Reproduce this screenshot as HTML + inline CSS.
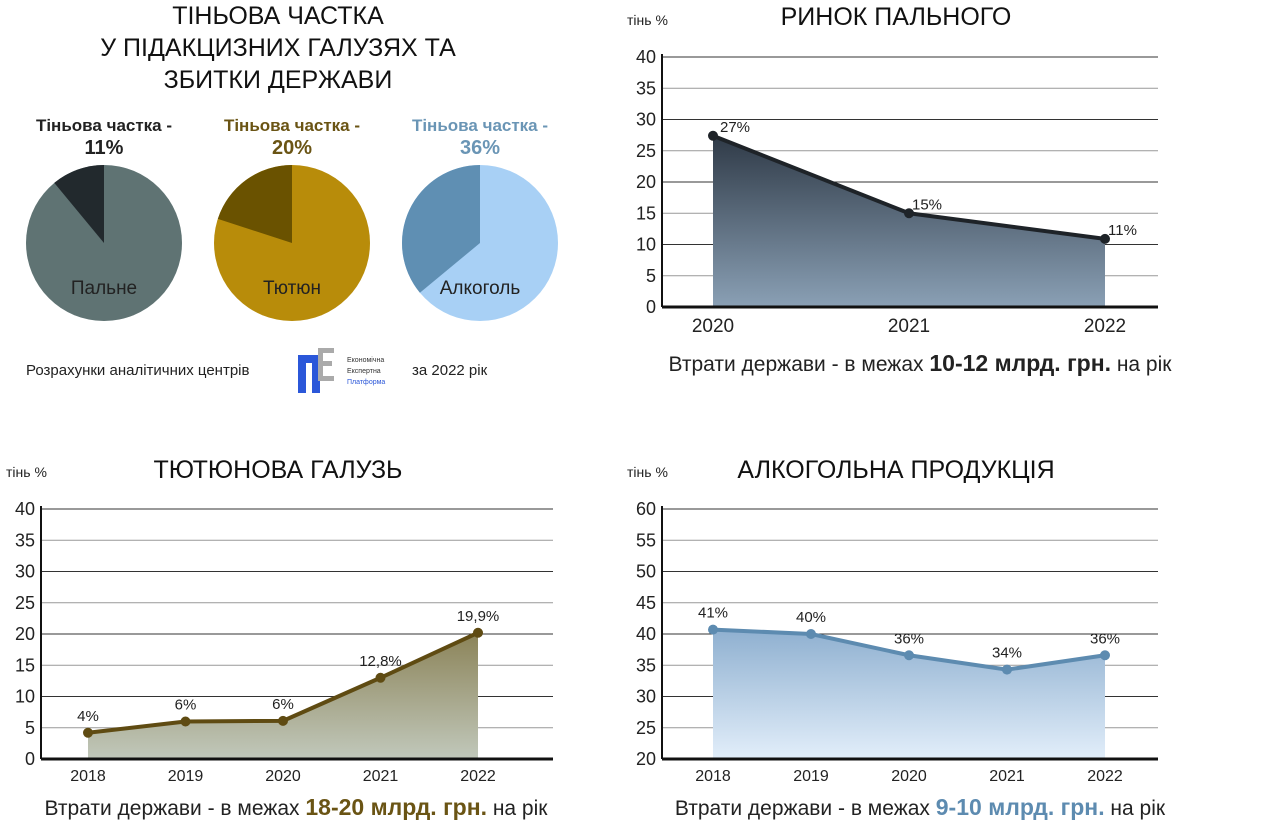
<!DOCTYPE html>
<html><head><meta charset="utf-8">
<style>
body{margin:0;background:#fff;font-family:"Liberation Sans",sans-serif;}
svg text{font-family:"Liberation Sans",sans-serif;}
</style></head>
<body>
<svg id="root" width="1280" height="827" viewBox="0 0 1280 827" xmlns="http://www.w3.org/2000/svg">
<defs>
<linearGradient id="gFuel" x1="0" y1="0" x2="0" y2="1"><stop offset="0" stop-color="#2f3a47"/><stop offset="1" stop-color="#8aa0b5"/></linearGradient>
<linearGradient id="gTob" x1="0" y1="0" x2="0" y2="1"><stop offset="0" stop-color="#8b8358"/><stop offset="1" stop-color="#c1c8bb"/></linearGradient>
<linearGradient id="gAlc" x1="0" y1="0" x2="0" y2="1"><stop offset="0" stop-color="#8fb0d0"/><stop offset="1" stop-color="#e2eefa"/></linearGradient>
</defs>
<g font-size="25" text-anchor="middle" fill="#111">
<text x="278" y="24">ТІНЬОВА ЧАСТКА</text>
<text x="278" y="56">У ПІДАКЦИЗНИХ ГАЛУЗЯХ ТА</text>
<text x="278" y="88">ЗБИТКИ ДЕРЖАВИ</text>
</g>
<g id="pies"></g>
<g>
<text x="26" y="375" font-size="15" fill="#222">Розрахунки аналітичних центрів</text>
<g>
<path d="M298 355 h22 v38 h-8 v-30 h-6 v30 h-8z" fill="#2b57d9"/>
<path d="M318 348 h16 v5 h-11 v8 h9 v5 h-9 v10 h11 v5 h-16z" fill="#aaa"/>
<text x="347" y="362" font-size="7" fill="#333">Економічна</text>
<text x="347" y="373" font-size="7" fill="#333">Експертна</text>
<text x="347" y="384" font-size="7" fill="#2b57d9">Платформа</text>
</g>
<text x="412" y="375" font-size="15" fill="#222">за 2022 рік</text>
</g>
<g id="charts"></g>
</svg>
<script>
const NS='http://www.w3.org/2000/svg';
const root=document.getElementById('root');
function mk(tag,attrs,parent,text){const e=document.createElementNS(NS,tag);for(const k in attrs)e.setAttribute(k,attrs[k]);if(text!==undefined)e.textContent=text;(parent||root).appendChild(e);return e;}

const pieLabels=['Пальне','Тютюн','Алкоголь'];
const pieShares=[11,20,36];
const pieHeads=['11%','20%','36%'];
const pieCx=[104,292,480];
const pieMain=['#5f7373','#b88c0a','#a8d0f5'];
const pieShadow=['#22292d','#6a5200','#5f8fb3'];
const pieHeadColor=['#222','#6a5414','#6a95b5'];
const pg=document.getElementById('pies');
pieShares.forEach((v,i)=>{
  const g=mk('g',{},pg);
  
  
  const cx=pieCx[i],cy=243,r=78;
  mk('circle',{cx,cy,r,fill:pieMain[i]},g);
  const a=v/100*2*Math.PI;
  const x=cx-r*Math.sin(a),y=cy-r*Math.cos(a);
  const s=mk('path',{d:`M${cx} ${cy} L${cx} ${cy-r} A${r} ${r} 0 ${v>50?1:0} 0 ${x} ${y} Z`,fill:pieShadow[i]},g);
  
  
  mk('text',{x:cx,y:294,'font-size':19,'text-anchor':'middle',fill:'#222'},g,pieLabels[i]);
  mk('text',{x:cx,y:131,'font-size':17,'font-weight':'bold','text-anchor':'middle',fill:pieHeadColor[i]},g,'Тіньова частка -');
  mk('text',{x:cx,y:154,'font-size':20,'font-weight':'bold','text-anchor':'middle',fill:pieHeadColor[i]},g,pieHeads[i]);
});

const fuelYears=['2020','2021','2022'];
const fuelValues=[27.4,15,10.9];
const fuelLabels=['27%','15%','11%'];
const fuelTicks=[0,5,10,15,20,25,30,35,40];
const tobYears=['2018','2019','2020','2021','2022'];
const tobValues=[4.2,6,6.1,13,20.2];
const tobLabels=['4%','6%','6%','12,8%','19,9%'];
const tobTicks=[0,5,10,15,20,25,30,35,40];
const alcYears=['2018','2019','2020','2021','2022'];
const alcValues=[40.7,40,36.6,34.3,36.6];
const alcLabels=['41%','40%','36%','34%','36%'];
const alcTicks=[20,25,30,35,40,45,50,55,60];

const cg=document.getElementById('charts');
function chart(o){
  const g=mk('g',{},cg);
  
  
  const yMin=o.ticks[0],yMax=o.ticks[o.ticks.length-1];
  const ys=v=>o.bottom-(v-yMin)/(yMax-yMin)*(o.bottom-o.top);
  const n=o.years.length;
  const xs=i=>n===1?o.x0:o.x0+i*(o.x1-o.x0)/(n-1);
  const t=mk('text',{x:o.titleX,y:o.titleY,'font-size':25,'text-anchor':'middle',fill:'#111'},g,o.title);
  
  const yt=mk('text',{x:o.axX-35,y:o.top-32,'font-size':14,fill:'#222'},g,'тінь %');
  
  o.ticks.forEach(v=>{
    const y=ys(v);
    if(v!==yMin){const l=mk('line',{x1:o.axX,x2:o.right,y1:y,y2:y,stroke:(v%10===0)?'#333':'#999','stroke-width':1},g);
      }
    const tl=mk('text',{x:o.axX-6,y:y+6,'font-size':18,'text-anchor':'end',fill:'#222'},g,v);
    
  });
  let d=`M${xs(0)} ${o.bottom}`;o.values.forEach((v,i)=>d+=` L${xs(i)} ${ys(v)}`);d+=` L${xs(n-1)} ${o.bottom} Z`;
  const ar=mk('path',{d,fill:o.fill},g);
  const pts=o.values.map((v,i)=>xs(i)+','+ys(v)).join(' ');
  const ln=mk('polyline',{points:pts,fill:'none',stroke:o.line,'stroke-width':4,'stroke-linejoin':'round'},g);
  
  o.values.forEach((v,i)=>{
    const c=mk('circle',{cx:xs(i),cy:ys(v),r:5,fill:o.line},g);
    
    const lx=o.labelDx?xs(i)+o.labelDx[i]:xs(i);
    const lb=mk('text',{x:lx,y:ys(v)-o.labelDy,'font-size':15,'text-anchor':o.labelDx?'start':'middle',fill:'#222'},g,o.labels[i]);
    
    const xl=mk('text',{x:xs(i),y:o.bottom+o.xlDy,'font-size':o.xlSize,'text-anchor':'middle',fill:'#222'},g,o.years[i]);
    
  });
  const ax=mk('line',{x1:o.axX,x2:o.axX,y1:o.top-3,y2:o.bottom,stroke:'#111','stroke-width':2},g);
  
  const bx=mk('line',{x1:o.axX,x2:o.right,y1:o.bottom,y2:o.bottom,stroke:'#111','stroke-width':3},g);
  
  const cap=mk('text',{x:o.capX,y:o.capY,'font-size':21,'text-anchor':'middle',fill:'#222'},g);
  
  mk('tspan',{},cap,'Втрати держави - в межах ');
  mk('tspan',{'font-weight':'bold','font-size':23,fill:o.capColor},cap,o.capBold);
  mk('tspan',{},cap,' на рік');
}
chart({name:'fuel-chart',title:'РИНОК ПАЛЬНОГО',titleX:896,titleY:25,years:fuelYears,values:fuelValues,labels:fuelLabels,ticks:fuelTicks,
  axX:662,right:1158,top:57,bottom:307,x0:713,x1:1105,fill:'url(#gFuel)',line:'#1e2328',labelDx:[7,3,3],labelDy:4,xlDy:25,xlSize:19,
  capX:920,capY:371,capBold:'10-12 млрд. грн.',capColor:'#222'});
chart({name:'tobacco-chart',title:'ТЮТЮНОВА ГАЛУЗЬ',titleX:278,titleY:478,years:tobYears,values:tobValues,labels:tobLabels,ticks:tobTicks,
  axX:41,right:553,top:509,bottom:759,x0:88,x1:478,fill:'url(#gTob)',line:'#5f4b12',labelDy:12,xlDy:22,xlSize:16,
  capX:296,capY:815,capBold:'18-20 млрд. грн.',capColor:'#6a5414'});
chart({name:'alcohol-chart',title:'АЛКОГОЛЬНА ПРОДУКЦІЯ',titleX:896,titleY:478,years:alcYears,values:alcValues,labels:alcLabels,ticks:alcTicks,
  axX:662,right:1158,top:509,bottom:759,x0:713,x1:1105,fill:'url(#gAlc)',line:'#5d8bb0',labelDy:12,xlDy:22,xlSize:16,
  capX:920,capY:815,capBold:'9-10 млрд. грн.',capColor:'#5d8bb0'});
</script>
</body></html>
